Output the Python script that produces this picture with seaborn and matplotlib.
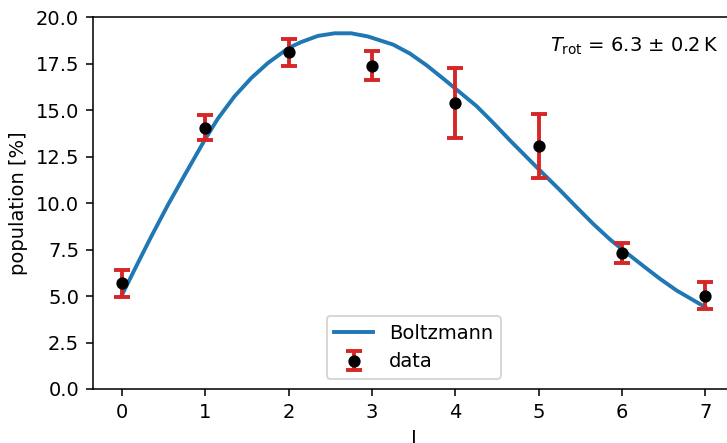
import matplotlib
matplotlib.use("Agg")
import matplotlib.pyplot as plt
import seaborn as sns
import pandas as pd

# measured data
J = [0, 1, 2, 3, 4, 5, 6, 7]
population = [5.68, 14.06, 18.12, 17.40, 15.39, 13.09, 7.32, 5.02]
pop_err = [0.72, 0.67, 0.73, 0.79, 1.88, 1.73, 0.56, 0.72]

# Boltzmann curve, values
J_curve = [0.0, 0.192, 0.352, 0.552, 0.752, 1.0, 1.152, 1.352, 1.552, 1.752,
           2.0, 2.152, 2.352, 2.552, 2.752, 2.952, 3.256, 3.456, 3.656, 3.856,
           4.0, 4.256, 4.456, 4.656, 5.0, 5.256, 5.456, 5.656, 5.856, 6.0,
           6.256, 6.456, 6.656, 6.856, 7.0]
pop_curve = [5.05, 6.78, 8.20, 9.90, 11.50, 13.45, 14.55, 15.75, 16.73, 17.54,
             18.35, 18.67, 19.00, 19.14, 19.14, 18.97, 18.53, 18.05, 17.42, 16.70,
             16.17, 15.22, 14.32, 13.38, 11.83, 10.70, 9.78, 8.88, 8.05, 7.52,
             6.62, 5.93, 5.30, 4.78, 4.40]

annotation = r"$T_\mathrm{rot}$ = 6.3 ± 0.2$\,$K"

DPI = 140
fig = plt.figure(figsize=(727 / DPI, 443 / DPI), dpi=DPI)
ax = fig.add_axes([0.1275, 0.1219, 0.8828, 0.839])

curve_df = pd.DataFrame({"J": J_curve, "population": pop_curve})
sns.lineplot(data=curve_df, x="J", y="population", ax=ax, color="#1f77b4",
             lw=2, label="Boltzmann")

ax.errorbar(J, population, yerr=pop_err, fmt="o", color="black",
            ecolor="#d62728", elinewidth=2, capsize=4, capthick=2,
            markersize=5.3, label="data")

ax.set_ylim(0, 20)
ax.set_xlim(-0.35, 7.35)
ax.set_xlabel("J")
ax.set_ylabel("population [%]")
ax.text(0.975, 0.95, annotation, transform=ax.transAxes, ha="right", va="top")
ax.legend(loc="lower center")

fig.savefig("out.png", dpi=DPI)
